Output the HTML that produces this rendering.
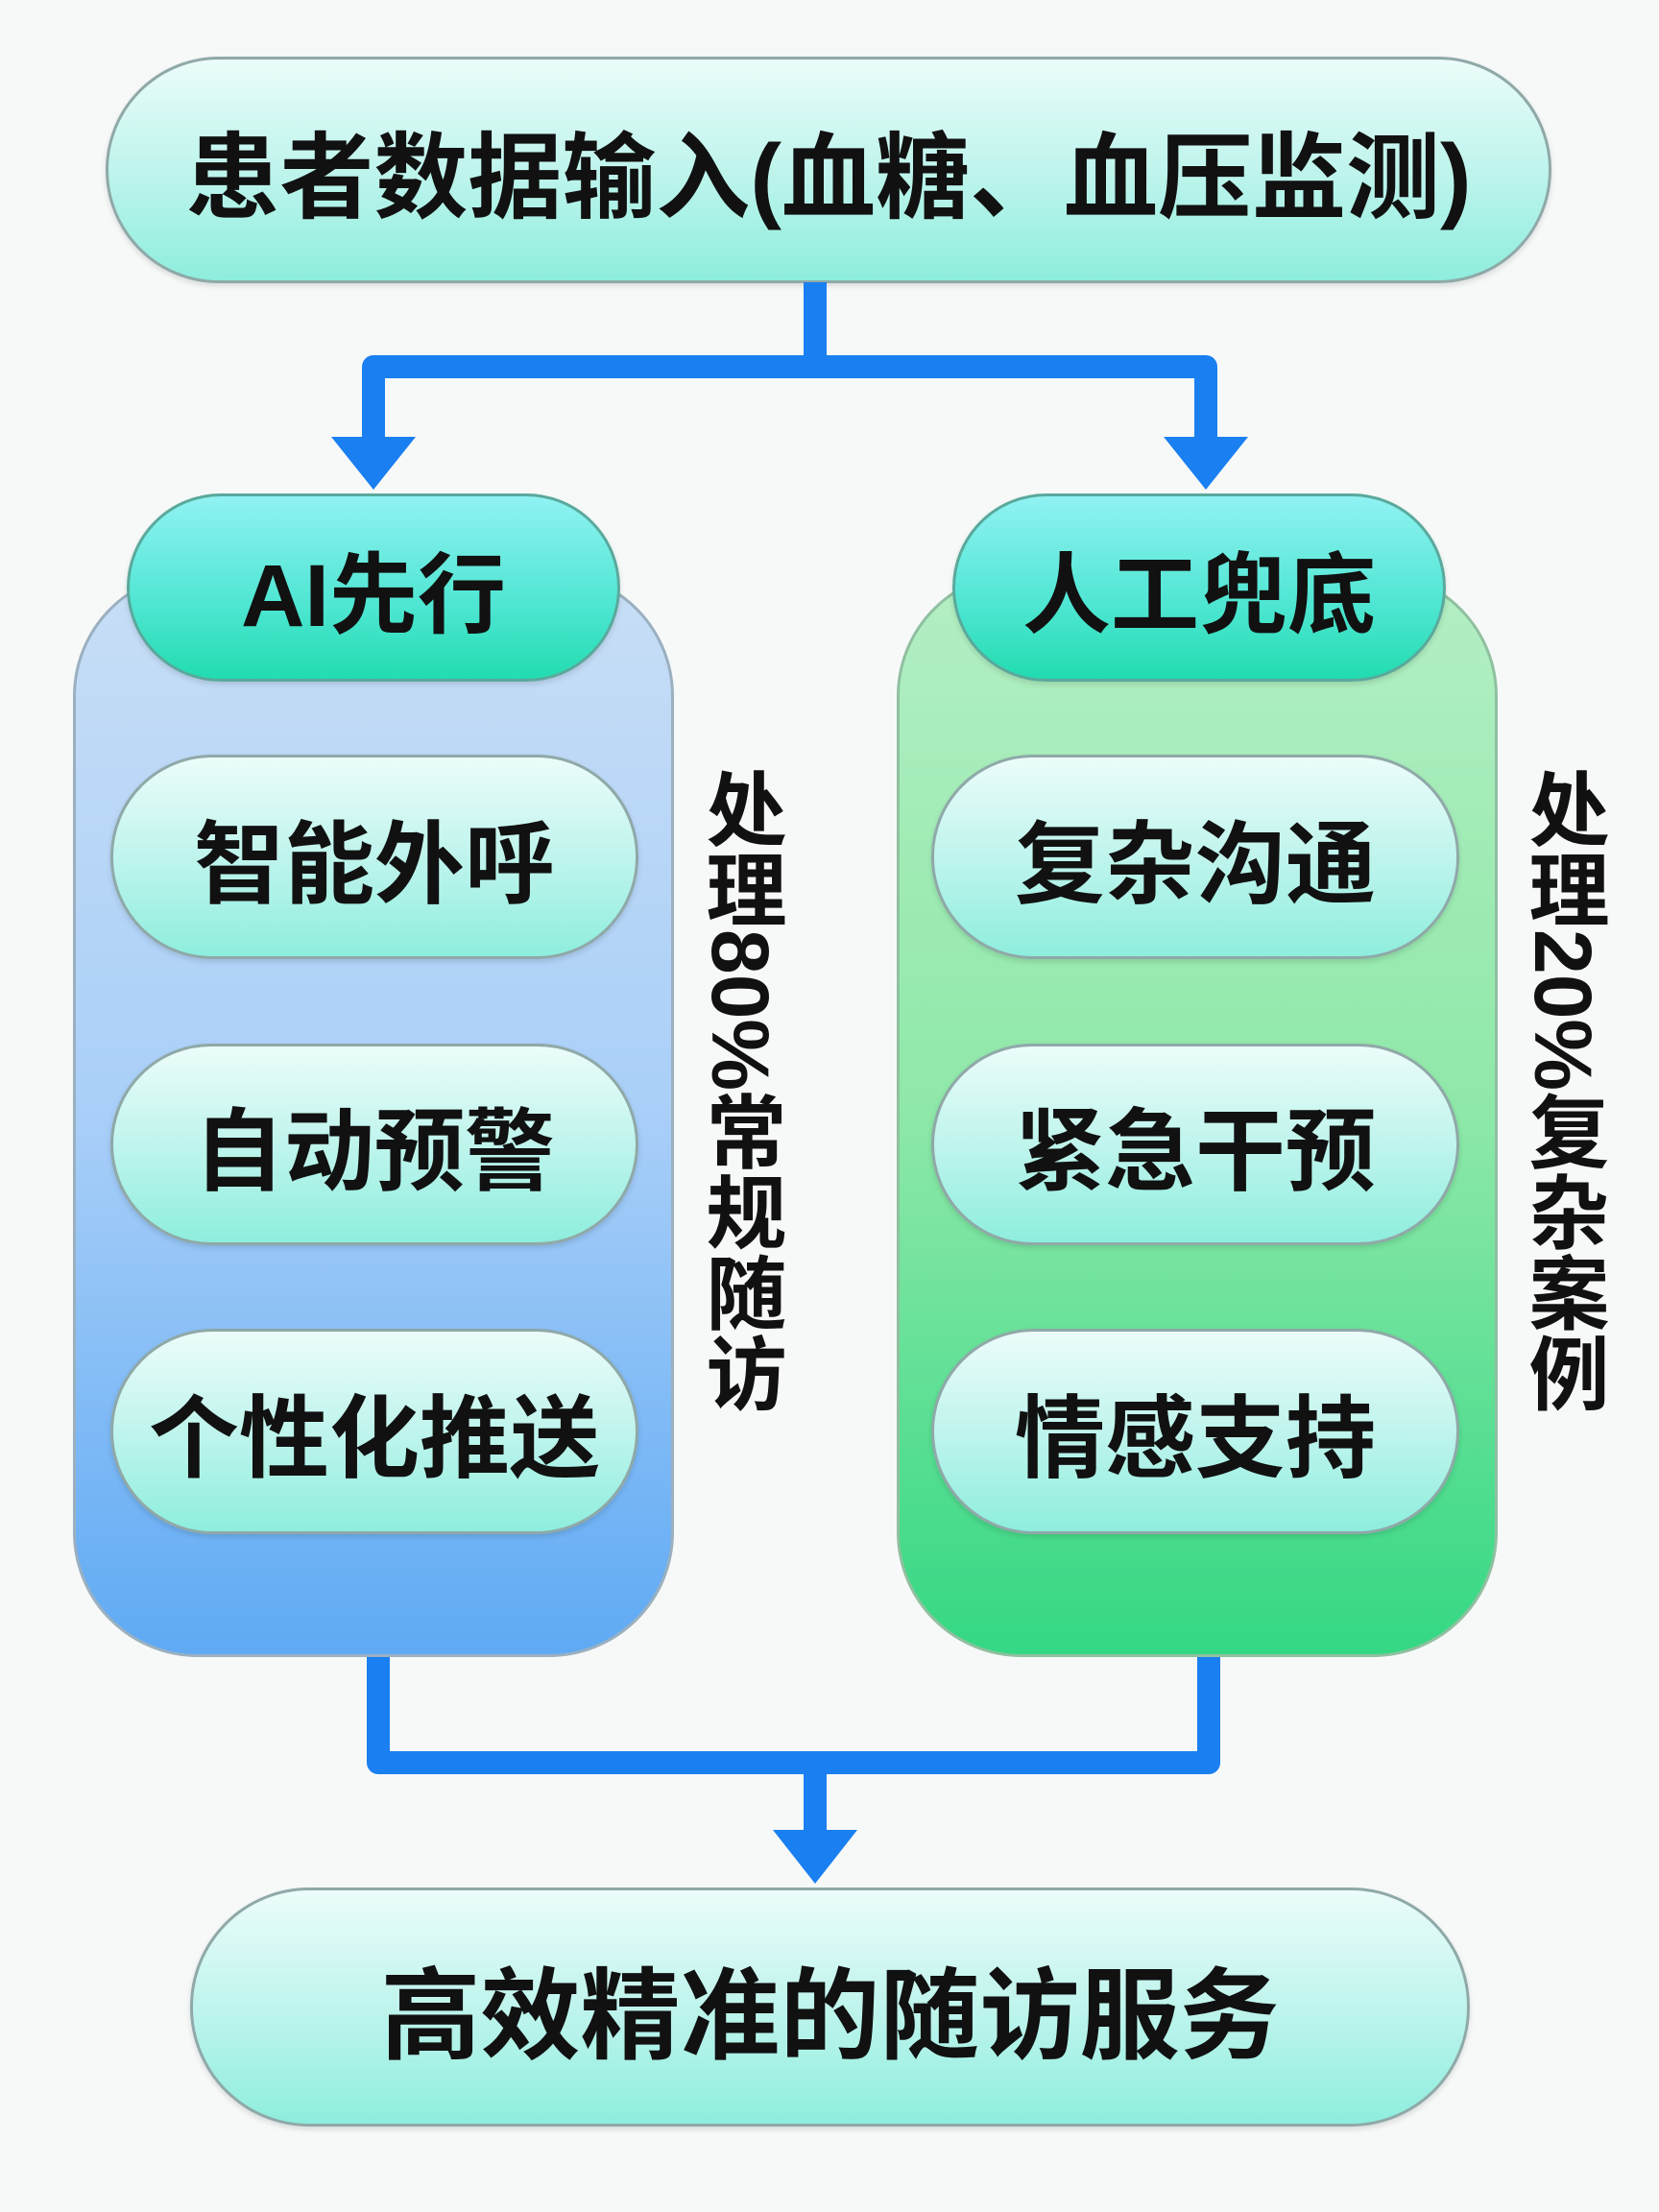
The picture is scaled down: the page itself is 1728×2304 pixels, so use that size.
<!DOCTYPE html>
<html><head><meta charset="utf-8"><style>
*{margin:0;padding:0;box-sizing:border-box}
body{width:1728px;height:2304px;background:#f7f9f9;position:relative;overflow:hidden;font-family:"Liberation Sans","Noto Sans CJK SC",sans-serif;font-weight:700;color:#111}
.a{position:absolute}
.pill{position:absolute;display:flex;align-items:center;justify-content:center;border:3px solid #8fa9a8;background:linear-gradient(180deg,#ecfcfa 0%,#b6f3ea 60%,#8eeedd 100%);box-shadow:0 3px 6px rgba(0,0,0,.12)}
.hdr{background:linear-gradient(180deg,#90f2f2 0%,#4ee6d2 60%,#22dcb0 100%);border:3px solid #5aa99c}
.panel{position:absolute;border:3px solid #9bb0c0;border-radius:130px}
.v{position:absolute;writing-mode:vertical-rl;font-size:84px;line-height:1;color:#111}
</style></head><body>

<div class="pill" style="left:110px;top:59px;width:1506px;height:236px;border-radius:118px;font-size:98px">患者数据输入(血糖、血压监测)</div>

<svg class="a" style="left:0;top:0" width="1728" height="2304">
<g fill="none" stroke="#1a7ff0" stroke-width="24" stroke-linejoin="round">
<path d="M849 294 V382 H389 V460"/>
<path d="M849 382 H1256 V460"/>
<path d="M394 1726 V1836 H1259 V1726"/>
<path d="M849 1836 V1912"/>
</g>
<g fill="#1a7ff0">
<polygon points="345,455 433,455 389,510"/>
<polygon points="1212,455 1300,455 1256,510"/>
<polygon points="805,1906 893,1906 849,1962"/>
</g>
</svg>

<div class="panel" style="left:76px;top:595px;width:626px;height:1131px;background:linear-gradient(180deg,#c8def6 0%,#a9cff8 50%,#5faaf4 100%)"></div>
<div class="panel" style="left:934px;top:595px;width:626px;height:1131px;border-color:#90c0a0;background:linear-gradient(180deg,#b4efc4 0%,#8ee8a8 50%,#34d884 100%)"></div>

<div class="pill hdr" style="left:132px;top:514px;width:514px;height:196px;border-radius:98px;font-size:92px">AI先行</div>
<div class="pill hdr" style="left:992px;top:514px;width:514px;height:196px;border-radius:98px;font-size:92px">人工兜底</div>

<div class="pill" style="left:115px;top:786px;width:550px;height:213px;border-radius:106px;font-size:94px">智能外呼</div>
<div class="pill" style="left:115px;top:1087px;width:550px;height:210px;border-radius:105px;font-size:94px">自动预警</div>
<div class="pill" style="left:115px;top:1384px;width:550px;height:214px;border-radius:107px;font-size:94px">个性化推送</div>

<div class="pill" style="left:970px;top:786px;width:550px;height:213px;border-radius:106px;font-size:94px">复杂沟通</div>
<div class="pill" style="left:970px;top:1087px;width:550px;height:210px;border-radius:105px;font-size:94px">紧急干预</div>
<div class="pill" style="left:970px;top:1384px;width:550px;height:214px;border-radius:107px;font-size:94px">情感支持</div>

<div class="v" style="left:729px;top:800px">处理80%常规随访</div>
<div class="v" style="left:1586px;top:800px">处理20%复杂案例</div>

<div class="pill" style="left:198px;top:1966px;width:1333px;height:249px;border-radius:124px;font-size:104px">高效精准的随访服务</div>

</body></html>
